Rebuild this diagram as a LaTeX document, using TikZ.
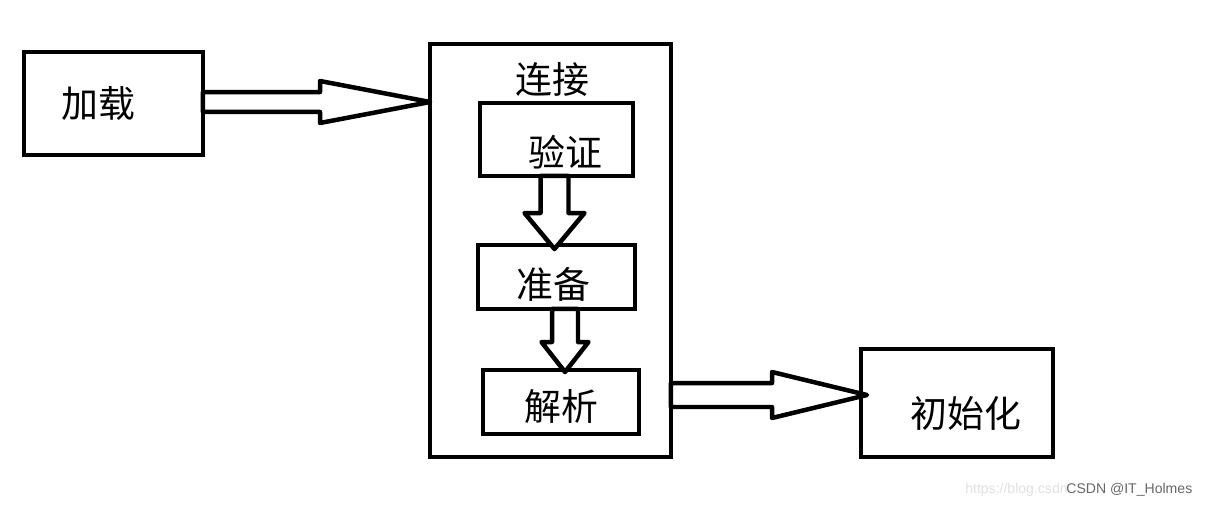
\documentclass[tikz,border=0pt]{standalone}
\usepackage{fontspec}
\newfontfamily\cjk{Noto Sans CJK SC}
\setmainfont{Liberation Sans}
\usetikzlibrary{calc}
\tikzset{
  box/.style={draw, line width=0.09cm, inner sep=0pt, outer sep=0pt},
  lbl/.style={font=\cjk\fontsize{21}{24}\selectfont, inner sep=0pt},
  blk/.style={draw, line width=0.09cm, fill=white, line join=round},
}
% \blockarrow{start}{tip}{shaft half width}{head half width}{head length}
\newcommand\blockarrow[5]{%
  \draw[blk] ($(#1)!#3!90:(#2)$) -- ($($(#2)!#5!(#1)$)!#3!90:(#2)$)
    -- ($($(#2)!#5!(#1)$)!#4!90:(#2)$) -- (#2)
    -- ($($(#2)!#5!(#1)$)!#4!-90:(#2)$) -- ($($(#2)!#5!(#1)$)!#3!-90:(#2)$)
    -- ($(#1)!#3!-90:(#2)$) -- cycle;}
\begin{document}
\begin{tikzpicture}[x=0.02cm,y=-0.02cm]
\useasboundingbox (0,0) rectangle (1205,507);
% boxes
\node[box, minimum width=3.58cm, minimum height=2.06cm] (load) at (113.5,103.5) {};
\node[lbl] (loadt) at (98,103) {加载};
\node[box, minimum width=4.82cm, minimum height=8.26cm] (conn) at (550.5,250.5) {};
\node[lbl] (connt) at (552,80) {连接};
\node[box, minimum width=3.06cm, minimum height=1.46cm] (verify) at (556.5,139.5) {};
\node[lbl] (verifyt) at (565,152) {验证};
\node[box, minimum width=3.14cm, minimum height=1.28cm] (prep) at (556.5,277) {};
\node[lbl] (prept) at (553,284) {准备};
\node[box, minimum width=3.12cm, minimum height=1.28cm] (parse) at (561,402) {};
\node[lbl] (parset) at (561,407) {解析};
\node[box, minimum width=3.84cm, minimum height=2.16cm] (init) at (957,403) {};
\node[lbl] (initt) at (966,413) {初始化};
% connectors
\coordinate (a1s) at ($(load.east)+(0,-1.5)$);
\coordinate (a1t) at (conn.west |- a1s);
\blockarrow{a1s}{a1t}{0.2cm}{0.42cm}{2.2cm}
\coordinate (a2s) at ($(verify.south)+(-2,0)$);
\coordinate (a2t) at ($(a2s |- prep.north)+(0,4)$);
\blockarrow{a2s}{a2t}{0.28cm}{0.6cm}{0.72cm}
\coordinate (a3s) at ($(prep.south)+(8.5,0)$);
\coordinate (a3t) at ($(a3s |- parse.north)+(0,2)$);
\blockarrow{a3s}{a3t}{0.26cm}{0.47cm}{0.6cm}
\coordinate (a4t) at ($(init.west)+(6,-8)$);
\coordinate (a4s) at (conn.east |- a4t);
\blockarrow{a4s}{a4t}{0.24cm}{0.46cm}{1.9cm}
% watermark
\node[anchor=east, inner sep=0pt, text=black!12, font=\fontsize{8}{10}\selectfont] (wm1) at (1068,490) {https://blog.csdn};
\node[anchor=west, inner sep=0pt, text=black!60, font=\fontsize{8}{10}\selectfont] (wm2) at (1066,490) {CSDN @IT\_Holmes};
\end{tikzpicture}
\end{document}
